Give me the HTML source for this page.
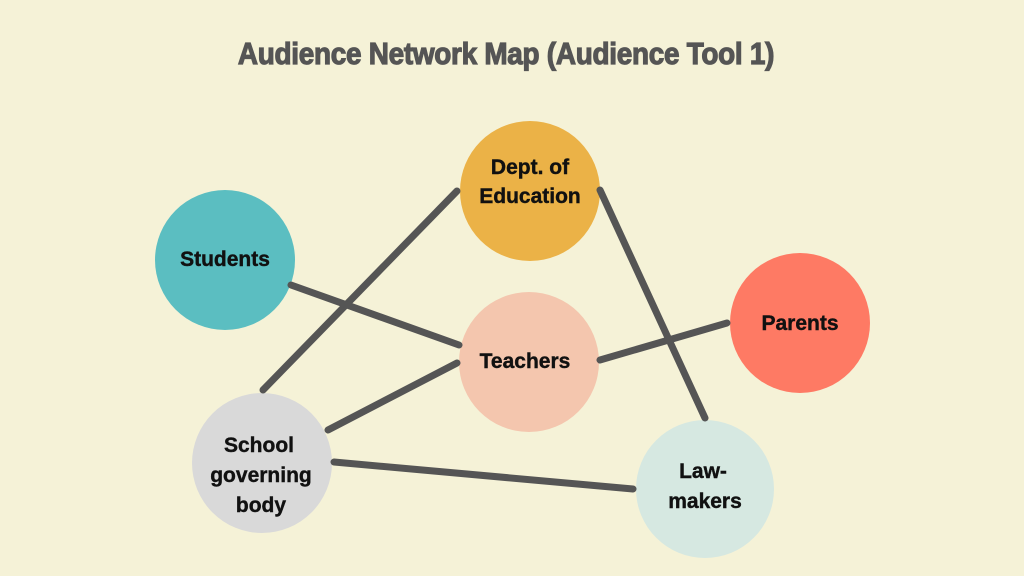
<!DOCTYPE html>
<html><head><style>
body{margin:0;width:1024px;height:576px;background:#f5f2d7;overflow:hidden}
svg{display:block}
text{font-family:"Liberation Sans",sans-serif;font-weight:bold}
</style></head><body>
<svg width="1024" height="576" viewBox="0 0 1024 576">
<rect width="1024" height="576" fill="#f5f2d7"/>
<text x="506" y="64" text-anchor="middle" font-size="31" fill="#555" stroke="#555" stroke-width="1.2" transform="translate(506 0) scale(0.9 1) translate(-506 0)" letter-spacing="-0.3">Audience Network Map (Audience Tool 1)</text>
<circle cx="530" cy="191" r="70" fill="#ebb247"/>
<circle cx="225" cy="260" r="70" fill="#5bbec1"/>
<circle cx="529" cy="362" r="70" fill="#f4c6ae"/>
<circle cx="800" cy="323" r="70" fill="#fe7a64"/>
<circle cx="262" cy="463" r="70" fill="#d9d9d9"/>
<circle cx="705" cy="489" r="69" fill="#d6e8e1"/>
<g stroke="#555" stroke-width="7" stroke-linecap="round">
<line x1="263" y1="390" x2="457" y2="191"/>
<line x1="291" y1="285" x2="459" y2="345"/>
<line x1="328" y1="430" x2="457" y2="363"/>
<line x1="600" y1="360" x2="727" y2="323"/>
<line x1="600" y1="190" x2="705" y2="418"/>
<line x1="334" y1="462" x2="633" y2="489"/>
</g>
<g font-size="21" fill="#111" text-anchor="middle" stroke="#111" stroke-width="0.4">
<text x="530" y="174">Dept. of</text>
<text x="530" y="203">Education</text>
<text x="225" y="266">Students</text>
<text x="525" y="368">Teachers</text>
<text x="800" y="330">Parents</text>
<text x="259" y="452">School</text>
<text x="261" y="482">governing</text>
<text x="261" y="512">body</text>
<text x="703" y="478">Law-</text>
<text x="705" y="508">makers</text>
</g>
</svg>
</body></html>
